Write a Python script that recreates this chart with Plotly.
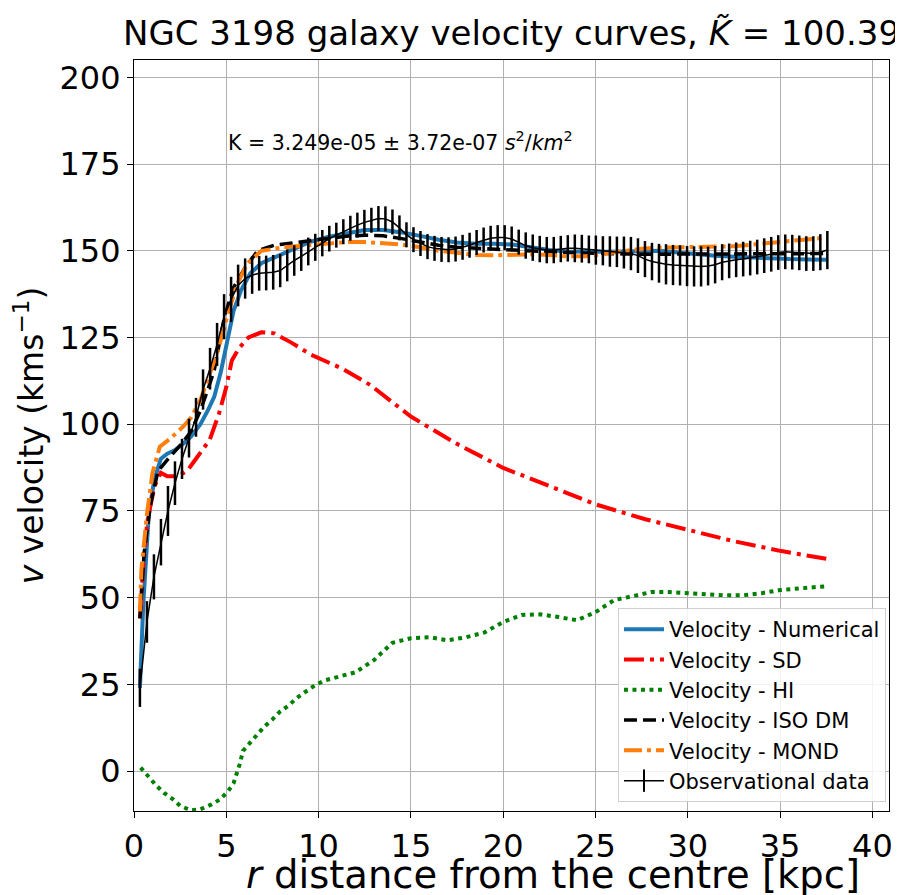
import plotly.graph_objects as go

# ---------------- data ----------------
obs_r = [0.32, 0.70, 1.08, 1.46, 1.84, 2.22, 2.60, 2.98, 3.36, 3.74, 4.12, 4.50, 4.88, 5.26, 5.64,
         6.02, 6.40, 6.78, 7.16, 7.54, 7.92, 8.30, 8.68, 9.06, 9.44, 9.82, 10.20, 10.58, 10.96,
         11.34, 11.72, 12.10, 12.48, 12.86, 13.24, 13.62, 14.00, 14.38, 14.76, 15.14, 15.52, 15.90,
         16.28, 16.66, 17.04, 17.42, 17.80, 18.18, 18.56, 18.94, 19.32, 19.70, 20.08, 20.46, 20.84,
         21.22, 21.60, 21.98, 22.36, 22.74, 23.12, 23.50, 23.88, 24.26, 24.64, 25.02, 25.40, 25.78,
         26.16, 26.54, 26.92, 27.30, 27.68, 28.06, 28.44, 28.82, 29.20, 29.58, 29.96, 30.34, 30.72,
         31.10, 31.48, 31.86, 32.24, 32.62, 33.00, 33.38, 33.76, 34.14, 34.52, 34.90, 35.28, 35.66,
         36.04, 36.42, 36.80, 37.18, 37.56]
obs_v = [24, 43, 56, 66, 75, 83, 90, 96, 102, 110, 116, 123, 131, 136, 140,
         142, 143, 143.5, 143.6, 143.8, 144.3, 145.8, 147.2, 148.4, 149.8, 151, 152.2, 153.5, 154.5,
         155.5, 156.5, 157.4, 158.2, 158.8, 159.3, 159.2, 158.3, 156.6, 154.6, 153.2, 152.1, 151.2,
         150.7, 150.4, 150.3, 150.5, 151.0, 151.6, 152.4, 153.1, 153.6, 153.8, 153.8, 153.4, 152.5,
         151.5, 150.9, 150.5, 150.2, 150.2, 150.5, 150.7, 150.7, 150.6, 150.4, 150.2, 150.0, 149.8,
         149.7, 149.5, 149.2, 148.6, 147.6, 146.9, 146.4, 146.1, 145.9, 145.8, 145.6, 145.5, 145.5,
         145.6, 146.0, 146.7, 147.1, 147.4, 147.6, 147.9, 148.2, 148.6, 149.0, 149.5, 149.7, 149.6,
         149.4, 149.2, 149.2, 149.6, 150.2]
obs_err = [5.5, 6, 6.5, 6.7, 7.2, 6.3, 5.8, 5.6, 5.6, 5.8, 6, 6.2, 6.5, 6.5, 6,
           5.8, 5.4, 5, 5, 5, 4.8, 4.6, 4.4, 4.2, 4.0, 3.9, 3.8, 3.7, 3.6,
           3.6, 3.6, 3.6, 3.6, 3.6, 3.6, 3.6, 3.6, 3.6, 3.6, 3.6, 3.6, 3.6,
           3.6, 3.6, 3.6, 3.6, 3.6, 3.6, 3.6, 3.6, 3.6, 3.6, 3.6, 3.6, 3.6,
           3.8, 3.8, 3.8, 3.8, 3.8, 3.8, 3.8, 4.0, 4.0, 4.0, 4.2, 4.2, 4.4,
           4.4, 4.6, 4.8, 5, 5.2, 5.4, 5.6, 5.8, 5.8, 5.8, 5.8, 5.8, 5.8,
           5.6, 5.4, 5.2, 5, 5, 5, 5, 5, 5, 5, 5, 5, 5,
           5, 5, 5, 5.2, 5.5, 6]

num_r = [0.32, 0.5, 0.8, 1.1, 1.45, 1.8, 2.2, 2.7, 3.1, 3.6, 4.0, 4.35, 4.7, 5.1, 5.4, 5.8, 6.3,
         6.9, 7.6, 8.5, 9.5, 10.5, 11.5, 12.5, 13.5, 14.5, 15.5, 16.5, 17.5, 18.5, 19.5, 20.5,
         21.5, 22.5, 23.5, 24.5, 25.5, 26.5, 27.5, 28.5, 29.5, 30.5, 31.5, 32.5, 33.5, 34.5,
         35.5, 36.5, 37.5]
num_v = [24, 48, 74, 84, 90, 91.5, 92.5, 94.5, 96.5, 100, 104, 108, 115, 125, 132.8, 138.6, 143.5,
         146.4, 148, 150, 152.5, 154, 155, 156, 156, 155.3, 154.3, 153.2, 152.4, 152, 152, 151.8,
         151, 150.2, 149.8, 149.7, 149.7, 149.8, 150, 150, 149.5, 149, 148.6, 148.3, 148, 147.8,
         147.6, 147.5, 147.4]

sd_r = [0.32, 0.5, 0.72, 1.1, 1.45, 1.8, 2.4, 2.9, 3.3, 3.8, 4.1, 4.6, 5.0, 5.3, 5.7, 6.2, 6.9,
        7.6, 8.5, 9.6, 10.3, 11.3, 12.8, 15.0, 17.4, 20.0, 22.5, 25.0, 27.7, 30.0, 32.4, 35.0, 37.5]
sd_v = [44, 59, 72, 82, 86, 85, 85, 86.7, 89.6, 93.4, 95.5, 103, 110.7, 118.4, 122, 125, 126.5,
        126.2, 123.6, 120, 118.4, 116, 111.3, 102.2, 94.6, 87.4, 82.2, 76.9, 72.6, 69.7, 66.4, 63.5, 61.2]

hi_r = [0.36, 0.76, 1.18, 1.63, 2.08, 2.5, 3.08, 3.6, 4.2, 4.65, 5.1, 5.4, 5.6, 5.75, 5.9, 6.3,
        6.65, 7.05, 7.5, 7.9, 8.4, 8.8, 9.3, 9.8, 10.3, 11, 12, 13, 14, 15, 16, 17, 18, 19, 20,
        21, 22, 23, 24, 25, 26, 27, 28, 29, 30, 31, 32, 33, 34, 35, 36, 37.5]
hi_v = [1, -1.6, -4, -6.3, -8, -10, -11.3, -11, -9.6, -8.2, -5.8, -3.4, -0.5, 2.4, 5.8, 8.2,
        10.6, 12.8, 14.9, 17.1, 19, 21, 22.9, 24.7, 26.1, 27, 28.5, 32, 37, 38.3, 38.6, 37.7,
        38.6, 40, 43, 45, 45.2, 44.4, 43.5, 45.8, 49.3, 50.4, 51.6, 51.6, 51.3, 51, 50.7, 50.7,
        51.3, 52.2, 52.7, 53.3]

iso_r = [0.32, 0.55, 0.9, 1.3, 1.85, 2.6, 3.1, 3.6, 4.0, 4.35, 4.9, 5.4, 6.0, 6.7, 7.6, 8.5,
         9.5, 10.5, 11.5, 12.5, 13.5, 14.5, 15.5, 16.5, 17.5, 18.5, 19.5, 20.5, 21.5, 22.5, 23.5,
         24.5, 25.5, 26.5, 27.5, 28.5, 29.5, 30.5, 31.5, 32.5, 33.5, 34.5, 35.5, 36.5, 37.5]
iso_v = [44, 63, 77, 86.5, 90, 94.5, 98, 104, 110, 115.6, 131, 139.5, 145, 150, 151.6, 152.2,
         152.8, 153.5, 154.2, 154.5, 154.3, 153.5, 152.5, 151.6, 151, 150.7, 150.5, 150.3, 150,
         149.7, 149.5, 149.3, 149.2, 149.1, 149, 149, 149, 149, 149, 149, 149, 149, 149, 149, 149.2]

mond_r = [0.32, 0.4, 0.7, 1.0, 1.4, 2.0, 2.7, 3.1, 3.6, 4.0, 4.5, 5.1, 5.6, 6.15, 6.9, 8.1, 9.5,
          10.5, 11.5, 12.5, 13.5, 14.5, 15.5, 16.5, 17.5, 18.5, 19.5, 20.5, 21.5, 22.5, 23.5, 24.5,
          25.5, 26.5, 27.5, 28.5, 29.5, 30.5, 31.5, 32.5, 33.5, 34.5, 35.5, 36.5, 37.5]
mond_v = [46, 58, 74, 86, 93.5, 96, 99.5, 102, 107, 113, 120.5, 132, 140.6, 146.4, 150, 151,
          151.6, 152.2, 152.5, 152.5, 152.2, 151.8, 151, 150, 149.4, 148.8, 148.7, 148.9, 149,
          148.8, 148.4, 148.4, 149.2, 150, 150.6, 150.9, 151, 151, 151, 151.3, 151.8, 152.3,
          152.8, 153.3, 153.8]

x_ticks = [0, 5, 10, 15, 20, 25, 30, 35, 40]
y_ticks = [0, 25, 50, 75, 100, 125, 150, 175, 200]

FONT = "DejaVu Sans"

fig = go.Figure()
fig.add_trace(go.Scatter(x=num_r, y=num_v, mode="lines", name="Velocity - Numerical",
                         line=dict(color="#1f77b4", width=4), legendgroup="a"))
fig.add_trace(go.Scatter(x=sd_r, y=sd_v, mode="lines", name="Velocity - SD",
                         line=dict(color="#ff0000", width=4, dash="20px,6px,4px,6px"), legendgroup="b"))
fig.add_trace(go.Scatter(x=hi_r, y=hi_v, mode="lines", name="Velocity - HI",
                         line=dict(color="#008000", width=4, dash="4px,4.5px"), legendgroup="c"))
fig.add_trace(go.Scatter(x=iso_r, y=iso_v, mode="lines", name="Velocity - ISO DM",
                         line=dict(color="#000000", width=3.5, dash="13px,6px"), legendgroup="d"))
fig.add_trace(go.Scatter(x=mond_r, y=mond_v, mode="lines", name="Velocity - MOND",
                         line=dict(color="#ff7f0e", width=4, dash="18px,5px,4px,5px"), legendgroup="e"))
fig.add_trace(go.Scatter(x=obs_r, y=obs_v, mode="lines", name="Observational data",
                         line=dict(color="#000000", width=1.5), showlegend=False,
                         error_y=dict(type="data", array=obs_err, visible=True,
                                      color="#000000", thickness=2.5, width=0)))
fig.add_trace(go.Scatter(x=[None], y=[None], mode="lines+markers", name="Observational data",
                         line=dict(color="#000000", width=1.5), legendgroup="f",
                         marker=dict(symbol="line-ns-open", size=18, color="#000000",
                                     line=dict(width=2, color="#000000"))))

fig.add_annotation(x=5, y=181.5, xref="x", yref="y", xanchor="left", yanchor="middle",
                   text="K = 3.249e-05 ± 3.72e-07 <i>s</i><sup>2</sup>/<i>km</i><sup>2</sup>",
                   showarrow=False, font=dict(family=FONT, size=20.5, color="#000000"))

# page body adds an 8px offset; figure is sized/placed to compensate
W, H = 895, 887
L, R, T, B = 126, 14, 52, 84
PW, PH = W - L - R, H - T - B

# x-axis label
fig.add_annotation(x=(244 - 8 - L) / PW, y=-(874 - 8 - (T + PH)) / PH, xref="paper", yref="paper",
                   xanchor="left", yanchor="middle",
                   text="<i>r</i> distance from the centre [kpc]",
                   showarrow=False, font=dict(family=FONT, size=38.5, color="#000000"))

axis_common = dict(showline=True, linecolor="#000000", linewidth=1.2, mirror=True,
                   showgrid=True, gridcolor="#b0b0b0", gridwidth=1, zeroline=False,
                   ticks="outside", ticklen=6, tickcolor="#000000", automargin=False,
                   tickfont=dict(family=FONT, size=32, color="#000000"))

fig.update_layout(
    width=W, height=H,
    margin=dict(l=L, r=R, t=T, b=B),
    paper_bgcolor="white", plot_bgcolor="white",
    font=dict(family=FONT, color="#000000"),
    title=dict(text="NGC 3198 galaxy velocity curves, <i>K̃</i> = 100.39",
               x=0.5, xref="paper", xanchor="center", y=0.985, yanchor="top",
               font=dict(family=FONT, size=34, color="#000000")),
    xaxis=dict(range=[0, 40.9], tickvals=x_ticks, ticktext=[str(t) for t in x_ticks],
               **axis_common),
    yaxis=dict(range=[-11.5, 205], tickvals=y_ticks, ticktext=[str(t) for t in y_ticks],
               title=dict(text="<i>v</i> velocity (kms<sup>−1</sup>)",
                          font=dict(family=FONT, size=33), standoff=8),
               **axis_common),
    legend=dict(x=0.996, y=0.012, xanchor="right", yanchor="bottom",
                bgcolor="rgba(255,255,255,0.85)", bordercolor="#d0d0d0", borderwidth=1,
                font=dict(family=FONT, size=21, color="#000000"), tracegroupgap=0,
                itemwidth=40),
)

fig.write_html("out.html")
